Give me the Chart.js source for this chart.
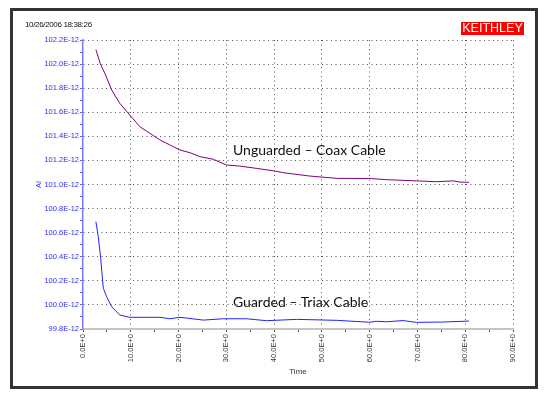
<!DOCTYPE html>
<html>
<head>
<meta charset="utf-8">
<script src="https://cdn.jsdelivr.net/npm/chart.js@4.4.0/dist/chart.umd.min.js"></script>
<style>
body { margin: 0; background: #fff; }
#wrap { position: relative; width: 546px; height: 397px; }
#frame { position: absolute; left: 10px; top: 8px; width: 528px; height: 381px; box-sizing: border-box; border: 3px solid #333; pointer-events: none; }
#stamp { position: absolute; left: 25px; top: 20px; font: 8px "Liberation Sans", Arial, sans-serif; letter-spacing: -0.35px; color: #111; }
#logo { position: absolute; left: 461px; top: 22px; width: 63px; height: 13px; background: #f00; color: #fff; font: 12.5px "Liberation Sans", Arial, sans-serif; line-height: 13px; text-align: center; }
.note { position: absolute; font: 14px Lato, "Open Sans", sans-serif; color: #111; white-space: nowrap; }
</style>
</head>
<body>
<div id="wrap">
<canvas id="chart" width="546" height="397"></canvas>
<div id="frame"></div>
<div id="stamp">10/26/2006 18:38:26</div>
<div id="logo">KEITHLEY</div>
<div class="note" style="left:233px; top:141px;">Unguarded – Coax Cable</div>
<div class="note" style="left:233px; top:293px;">Guarded – Triax Cable</div>
</div>
<script>
// tiempo (s) y corriente (E-12 A)
const unguardedTime = [2.7, 3.6, 4.6, 6.0, 7.7, 9.8, 11.9, 14.0, 16.1, 18.2, 20.3, 22.4, 24.5, 27.3, 30.0, 32.8, 36.3, 39.8, 41.9, 47.5, 53.1, 60.0, 63.5, 69.8, 74.0, 77.5, 78.9, 80.8];
const unguardedVals = [102.12, 102.006, 101.92, 101.785, 101.674, 101.577, 101.48, 101.425, 101.37, 101.328, 101.286, 101.264, 101.231, 101.209, 101.162, 101.153, 101.134, 101.114, 101.098, 101.07, 101.051, 101.05, 101.04, 101.03, 101.023, 101.03, 101.02, 101.018];

const guardedTime = [2.7, 3.2, 3.7, 4.25, 4.95, 6.0, 7.7, 9.8, 12.6, 16.1, 18.2, 20.3, 25.2, 29.4, 34.2, 38.4, 44.7, 53.1, 60.0, 61.4, 63.5, 67.0, 69.8, 75.4, 80.8];
const guardedVals = [100.691, 100.566, 100.387, 100.138, 100.068, 99.985, 99.916, 99.897, 99.897, 99.897, 99.885, 99.897, 99.874, 99.885, 99.885, 99.869, 99.88, 99.872, 99.856, 99.864, 99.86, 99.87, 99.855, 99.858, 99.866];

// ejes
const xTicks = [0, 5, 10, 15, 20, 25, 30, 35, 40, 45, 50, 55, 60, 65, 70, 75, 80, 85, 90];
const yTicks = [99.8, 99.9, 100.0, 100.1, 100.2, 100.3, 100.4, 100.5, 100.6, 100.7, 100.8, 100.9, 101.0, 101.1, 101.2, 101.3, 101.4, 101.5, 101.6, 101.7, 101.8, 101.9, 102.0, 102.1, 102.2];

const toPoints = (t, v) => t.map((x, i) => ({ x: x, y: v[i] }));
const isMajorY = v => Math.round(v * 10) % 2 === 0;
const small = { family: "Liberation Sans", size: 7.5 };

new Chart(document.getElementById("chart"), {
  type: "line",
  data: {
    datasets: [{
      label: "Unguarded",
      data: toPoints(unguardedTime, unguardedVals),
      borderColor: "#800080",
      borderWidth: 1,
      pointRadius: 0
    }, {
      label: "Guarded",
      data: toPoints(guardedTime, guardedVals),
      borderColor: "#2222ff",
      borderWidth: 1,
      pointRadius: 0
    }]
  },
  options: {
    responsive: false,
    animation: false,
    layout: { padding: { left: 34, top: 40, right: 33, bottom: 20 } },
    plugins: { legend: { display: false }, tooltip: { enabled: false } },
    scales: {
      x: {
        type: "linear",
        min: 0,
        max: 90,
        afterBuildTicks: s => { s.ticks = xTicks.map(v => ({ value: v })); },
        afterFit: s => { s.height = 48; },
        ticks: {
          autoSkip: false,
          minRotation: 90,
          maxRotation: 90,
          padding: 2,
          color: "#333",
          font: small,
          callback: v => v % 10 === 0 ? v.toFixed(1) + "E+0" : ""
        },
        grid: {
          color: c => c.tick && c.tick.value % 10 === 0 && c.tick.value > 0 ? "#555" : "rgba(0,0,0,0)",
          tickColor: "#555",
          tickLength: 3
        },
        border: { color: "#c4c4c4", width: 2, dash: [1, 3.5] },
        title: { display: true, text: "Time", color: "#333", font: { family: "Liberation Sans", size: 8 }, padding: { top: 2, bottom: 0 } }
      },
      y: {
        min: 99.8,
        max: 102.2,
        afterBuildTicks: s => { s.ticks = yTicks.map(v => ({ value: v })); },
        afterFit: s => { s.width = 49; },
        ticks: {
          autoSkip: false,
          padding: 1,
          color: "#2a2aff",
          font: small,
          callback: v => isMajorY(v) ? v.toFixed(1) + "E-12" : ""
        },
        grid: {
          color: c => c.tick && isMajorY(c.tick.value) && c.tick.value > 99.85 ? "#555" : "rgba(0,0,0,0)",
          tickColor: "#5a5aff",
          tickLength: 3
        },
        border: { color: "#7a7aff", width: 1.5, dash: [1, 3.5] },
        title: { display: true, text: "AI", color: "#3a3aff", font: small, padding: 0 }
      }
    }
  }
});
</script>
</body>
</html>
